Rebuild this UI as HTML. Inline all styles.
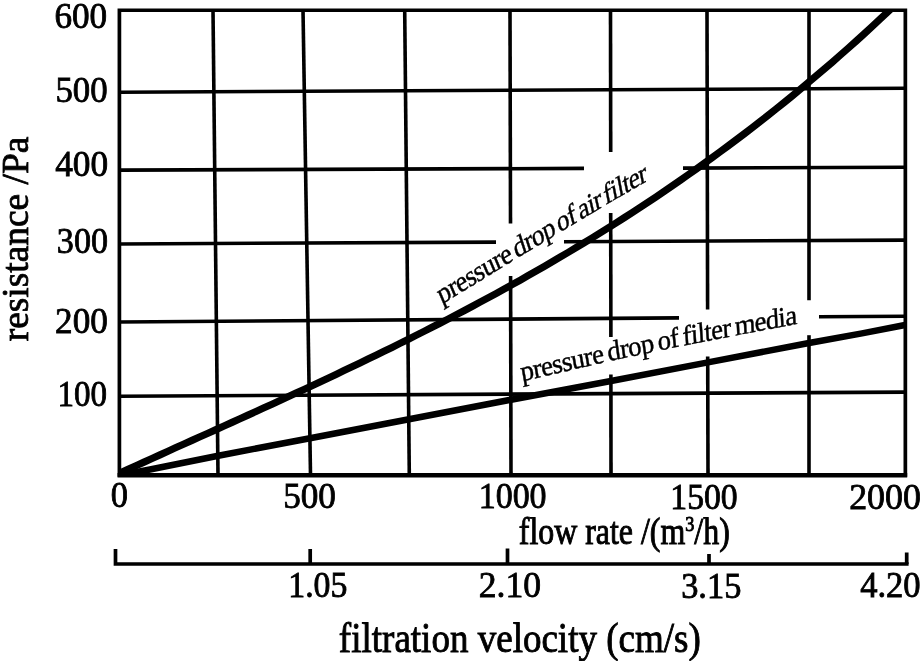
<!DOCTYPE html>
<html><head><meta charset="utf-8"><style>
html,body{margin:0;padding:0;background:#fff;}
body{width:922px;height:661px;overflow:hidden;}
svg{display:block;will-change:transform;}
text{font-family:"Liberation Serif",serif;fill:#000;}
.lab{stroke:#000;stroke-width:0.45px;}
</style></head><body>
<svg width="922" height="661" viewBox="0 0 922 661">
<rect width="922" height="661" fill="#fff"/>
<g stroke="#000" stroke-linecap="butt" fill="none">
<line x1="119.5" y1="92.2" x2="905.0" y2="88.3" stroke-width="3.6"/>
<line x1="119.5" y1="170.1" x2="584.0" y2="168.4" stroke-width="3.6"/>
<line x1="683.0" y1="168.1" x2="905.0" y2="167.3" stroke-width="3.6"/>
<line x1="119.5" y1="244.0" x2="496.0" y2="242.1" stroke-width="3.6"/>
<line x1="564.0" y1="241.8" x2="905.0" y2="240.1" stroke-width="3.6"/>
<line x1="119.5" y1="322.0" x2="679.0" y2="317.9" stroke-width="3.6"/>
<line x1="819.0" y1="316.8" x2="905.0" y2="316.2" stroke-width="3.6"/>
<line x1="119.5" y1="396.2" x2="905.0" y2="392.1" stroke-width="3.6"/>
<line x1="213.0" y1="10.0" x2="218.0" y2="475.0" stroke-width="3.6"/>
<line x1="303.0" y1="10.0" x2="310.5" y2="475.0" stroke-width="3.6"/>
<line x1="404.7" y1="10.0" x2="409.3" y2="475.0" stroke-width="3.6"/>
<line x1="510.0" y1="10.0" x2="510.5" y2="223.5" stroke-width="3.6"/>
<line x1="510.6" y1="276.0" x2="511.0" y2="475.0" stroke-width="3.6"/>
<line x1="610.5" y1="10.0" x2="610.7" y2="152.0" stroke-width="3.6"/>
<line x1="610.7" y1="213.0" x2="610.9" y2="337.0" stroke-width="3.6"/>
<line x1="610.9" y1="374.5" x2="611.0" y2="475.0" stroke-width="3.6"/>
<line x1="707.0" y1="10.0" x2="707.6" y2="309.6" stroke-width="3.6"/>
<line x1="707.7" y1="356.5" x2="708.0" y2="475.0" stroke-width="3.6"/>
<line x1="809.0" y1="10.0" x2="809.0" y2="300.2" stroke-width="3.6"/>
<line x1="809.0" y1="335.2" x2="809.0" y2="475.0" stroke-width="3.6"/>
<path d="M119.4,10.25 L905.35,10.25 L905.35,475 L119.4,475 Z" stroke-width="3.7" stroke-linejoin="miter"/>
<line x1="117.55" y1="475.2" x2="907.2" y2="475.2" stroke-width="4.6"/>
</g>
<defs><clipPath id="cp"><rect x="119" y="10.3" width="786.4" height="465"/></clipPath></defs>
<g stroke="#000" fill="none" stroke-linejoin="round" clip-path="url(#cp)">
<polyline points="120.0,473.0 128.0,469.4 136.0,465.7 144.0,462.1 152.0,458.5 160.0,454.9 168.0,451.3 176.0,447.6 184.0,444.0 192.0,440.4 200.0,436.8 208.0,433.2 216.0,429.6 224.0,426.0 232.0,422.4 240.0,418.7 248.0,415.1 256.0,411.5 264.0,407.8 272.0,404.2 280.0,400.5 288.0,396.8 296.0,393.1 304.0,389.4 312.0,385.7 320.0,381.9 328.0,378.2 336.0,374.4 344.0,370.6 352.0,366.8 360.0,363.0 368.0,359.1 376.0,355.2 384.0,351.3 392.0,347.4 400.0,343.4 408.0,339.5 416.0,335.4 424.0,331.4 432.0,327.3 440.0,323.2 448.0,319.1 456.0,314.9 464.0,310.7 472.0,306.5 480.0,302.2 488.0,297.9 496.0,293.6 504.0,289.2 512.0,284.7 520.0,280.3 528.0,275.7 536.0,271.2 544.0,266.6 552.0,261.9 560.0,257.2 568.0,252.5 576.0,247.7 584.0,242.9 592.0,238.0 600.0,233.0 608.0,228.0 616.0,223.0 624.0,217.9 632.0,212.7 640.0,207.5 648.0,202.2 656.0,196.9 664.0,191.5 672.0,186.0 680.0,180.5 688.0,174.9 696.0,169.3 704.0,163.5 712.0,157.8 720.0,151.9 728.0,146.0 736.0,140.0 744.0,134.0 752.0,127.8 760.0,121.6 768.0,115.4 776.0,109.0 784.0,102.6 792.0,96.1 800.0,89.5 808.0,82.8 816.0,76.1 824.0,69.3 832.0,62.4 840.0,55.4 848.0,48.4 856.0,41.2 864.0,34.0 872.0,26.6 880.0,19.2 887.0,12.7 892.0,8.0" stroke-width="7.2"/>
<polyline points="120,475.2 150,469.5 217,456 310,438.2 511,399.7 611,381 708,362.4 809,343 862,333.4 905,325" stroke-width="6.5"/>
</g>
<text transform="translate(54.40,27.95) scale(1.0050,1)" font-size="35.00" stroke="#000" stroke-width="0.80">600</text>
<text transform="translate(55.45,102.35) scale(0.9950,1)" font-size="35.00" stroke="#000" stroke-width="0.80">500</text>
<text transform="translate(55.15,176.45) scale(1.0098,1)" font-size="35.00" stroke="#000" stroke-width="0.79">400</text>
<text transform="translate(56.85,253.15) scale(0.9751,1)" font-size="35.00" stroke="#000" stroke-width="0.82">300</text>
<text transform="translate(55.05,332.85) scale(1.0050,1)" font-size="35.00" stroke="#000" stroke-width="0.80">200</text>
<text transform="translate(57.50,405.95) scale(0.9436,1)" font-size="35.00" stroke="#000" stroke-width="0.85">100</text>
<text transform="translate(110.70,506.95) scale(0.9845,1)" font-size="35.00" stroke="#000" stroke-width="0.81">0</text>
<text transform="translate(283.15,508.05) scale(1.0050,1)" font-size="35.00" stroke="#000" stroke-width="0.80">500</text>
<text transform="translate(478.70,508.30) scale(0.9699,1)" font-size="35.00" stroke="#000" stroke-width="0.82">1000</text>
<text transform="translate(670.30,509.05) scale(0.9623,1)" font-size="35.00" stroke="#000" stroke-width="0.83">1500</text>
<text transform="translate(849.15,508.93) scale(1.0257,1)" font-size="35.00" stroke="#000" stroke-width="0.78">2000</text>
<text transform="translate(288.30,597.45) scale(0.9652,1)" font-size="35.00" stroke="#000" stroke-width="0.83">1.05</text>
<text transform="translate(478.75,596.50) scale(1.0169,1)" font-size="35.00" stroke="#000" stroke-width="0.79">2.10</text>
<text transform="translate(681.15,597.57) scale(0.9831,1)" font-size="35.00" stroke="#000" stroke-width="0.81">3.15</text>
<text transform="translate(860.15,597.35) scale(0.9875,1)" font-size="35.00" stroke="#000" stroke-width="0.81">4.20</text>
<text transform="translate(518.80,543.80) scale(0.8621,1)" font-size="37.00" stroke="#000" stroke-width="0.93">flow rate /(m<tspan dy="-13" font-size="0.57em">3</tspan><tspan dy="13">/h)</tspan></text>
<text transform="translate(338.85,651.90) scale(0.8780,1)" font-size="42.20" stroke="#000" stroke-width="0.91">filtration velocity (cm/s)</text>
<text transform="translate(27.55,341.30) rotate(-90) scale(0.9806,1)" font-size="38.16" stroke="#000" stroke-width="0.82">resistance /Pa</text>
<g stroke="#000" fill="none" stroke-width="3.7" stroke-linecap="butt">
<polyline points="115.5,549 115.5,564 908.6,564"/>
<line x1="310.2" y1="549" x2="310.2" y2="564"/>
<line x1="507.5" y1="548.5" x2="507.5" y2="564"/>
<line x1="709" y1="554" x2="709" y2="564"/>
<line x1="906.7" y1="552.5" x2="906.7" y2="564"/>
</g>
<text transform="matrix(0.8108,-0.4968,0.3907,0.9205,441.50,304.50)" font-size="28.5" letter-spacing="-0.74" class="lab">pressure</text>
<text transform="matrix(0.8151,-0.4897,0.3090,0.9511,516.42,258.59)" font-size="28.5" letter-spacing="-0.74" class="lab">drop</text>
<text transform="matrix(0.8151,-0.4897,0.2588,0.9659,559.32,232.81)" font-size="28.5" letter-spacing="-0.74" class="lab">of</text>
<text transform="matrix(0.8151,-0.4897,0.2250,0.9744,580.20,220.27)" font-size="28.5" letter-spacing="-0.74" class="lab">air</text>
<text transform="matrix(0.8235,-0.4754,0.1908,0.9816,605.62,204.99)" font-size="28.5" letter-spacing="-0.74" class="lab">filter</text>
<text transform="matrix(0.9361,-0.2161,0.1736,0.9848,521.90,381.30)" font-size="28" letter-spacing="-0.62" class="lab">pressure</text>
<text transform="matrix(0.9397,-0.1997,0.1392,0.9903,608.58,361.29)" font-size="28" letter-spacing="-0.62" class="lab">drop</text>
<text transform="matrix(0.9414,-0.1915,0.1045,0.9945,658.49,350.68)" font-size="28" letter-spacing="-0.62" class="lab">of</text>
<text transform="matrix(0.9431,-0.1833,0.0698,0.9976,683.32,345.63)" font-size="28" letter-spacing="-0.62" class="lab">filter</text>
<text transform="matrix(0.9440,-0.1784,0.0523,0.9986,735.15,335.55)" font-size="28" letter-spacing="-0.62" class="lab">media</text>
</svg>
</body></html>
